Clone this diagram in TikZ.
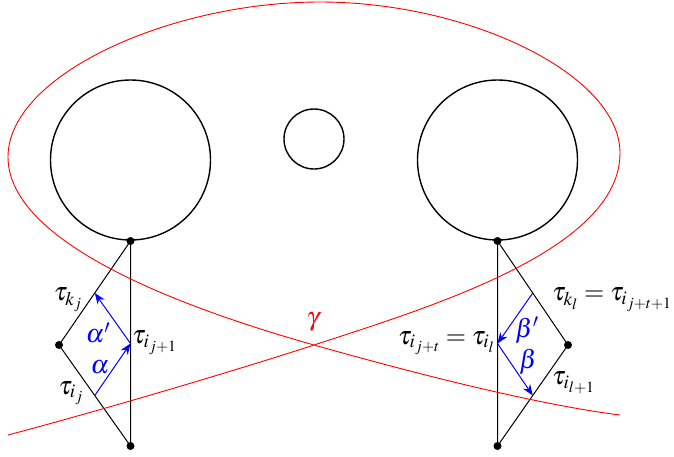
\documentclass[tikz,border=0pt]{standalone}
\usepackage{mathptmx}
\usetikzlibrary{arrows.meta}
\begin{document}
\begin{tikzpicture}[x=1pt,y=-1pt,
  hole/.style={circle,draw,line width=1.4pt,inner sep=0pt,minimum size=#1},
  vdot/.style={circle,fill,inner sep=0pt,minimum size=8pt},
  edge/.style={line width=1pt},
  curve/.style={red,line width=0.9pt},
  marr/.style={blue,line width=1pt,-{Stealth[length=11pt,width=8.5pt,inset=3.5pt]}},
  lab/.style={inner sep=0pt,font=\fontsize{26}{30}\selectfont}]
\useasboundingbox (0,0) rectangle (674,456);
% holes
\node[hole=160pt] (H1) at (130.5,160) {};
\node[hole=60pt] (H2) at (314,139) {};
\node[hole=160pt] (H3) at (497.5,160) {};
% vertices
\node[vdot] (a1) at (130.5,241) {};
\node[vdot] (a2) at (59,345) {};
\node[vdot] (a3) at (130.5,446) {};
\node[vdot] (b1) at (497.5,241) {};
\node[vdot] (b2) at (568,345) {};
\node[vdot] (b3) at (497.5,446) {};
\draw[edge] (a1.center) -- (a2.center) -- (a3.center) -- cycle;
\draw[edge] (b1.center) -- (b2.center) -- (b3.center) -- cycle;
% midpoints
\path (a2.center) -- (a3.center) coordinate[pos=0.5] (ma);
\path (a1.center) -- (a3.center) coordinate[pos=0.5] (mb);
\path (a1.center) -- (a2.center) coordinate[pos=0.5] (mc);
\path (b1.center) -- (b2.center) coordinate[pos=0.5] (nc);
\path (b1.center) -- (b3.center) coordinate[pos=0.5] (nb);
\path (b2.center) -- (b3.center) coordinate[pos=0.5] (na);
% curve gamma
\coordinate (g0) at (8,435);
\coordinate (gx) at (314,345);
\coordinate (gr) at (620,153);
\coordinate (gt) at (320,2);
\coordinate (gl) at (8,157);
\coordinate (g9) at (620,415);
\draw[curve] (g0) .. controls (110,408) and (250,366) .. (gx)
  .. controls (430,307) and (620,250) .. (gr)
  .. controls (620,75) and (470,2) .. (gt)
  .. controls (170,2) and (8,75) .. (gl)
  .. controls (8,245) and (190,310) .. (gx)
  .. controls (420,375) and (540,405) .. (g9);
% arrows
\draw[marr] (ma) -- (mb);
\draw[marr] (mb) -- (mc);
\draw[marr] (nc) -- (nb);
\draw[marr] (nb) -- (na);
% labels
\node[lab] (lkj) at (68,300) {$\tau_{k_j}$};
\node[lab] (lij) at (71,393) {$\tau_{i_j}$};
\node[lab,anchor=west] (lij1) at (132,343) {$\tau_{i_{j+1}}$};
\node[lab,blue] (lal2) at (98,333) {$\alpha'$};
\node[lab,blue] (lal) at (100,367) {$\alpha$};
\node[lab,anchor=west] (lkl) at (552,300) {$\tau_{k_l}=\tau_{i_{j+t+1}}$};
\node[lab,anchor=east] (lil) at (495,343) {$\tau_{i_{j+t}}=\tau_{i_l}$};
\node[lab,blue] (lbe2) at (527,330) {$\beta'$};
\node[lab,blue] (lbe) at (528,362) {$\beta$};
\node[lab,anchor=west] (lil1) at (552,383) {$\tau_{i_{l+1}}$};
\node[lab,red] (lgam) at (313,322) {$\gamma$};
\end{tikzpicture}
\end{document}
